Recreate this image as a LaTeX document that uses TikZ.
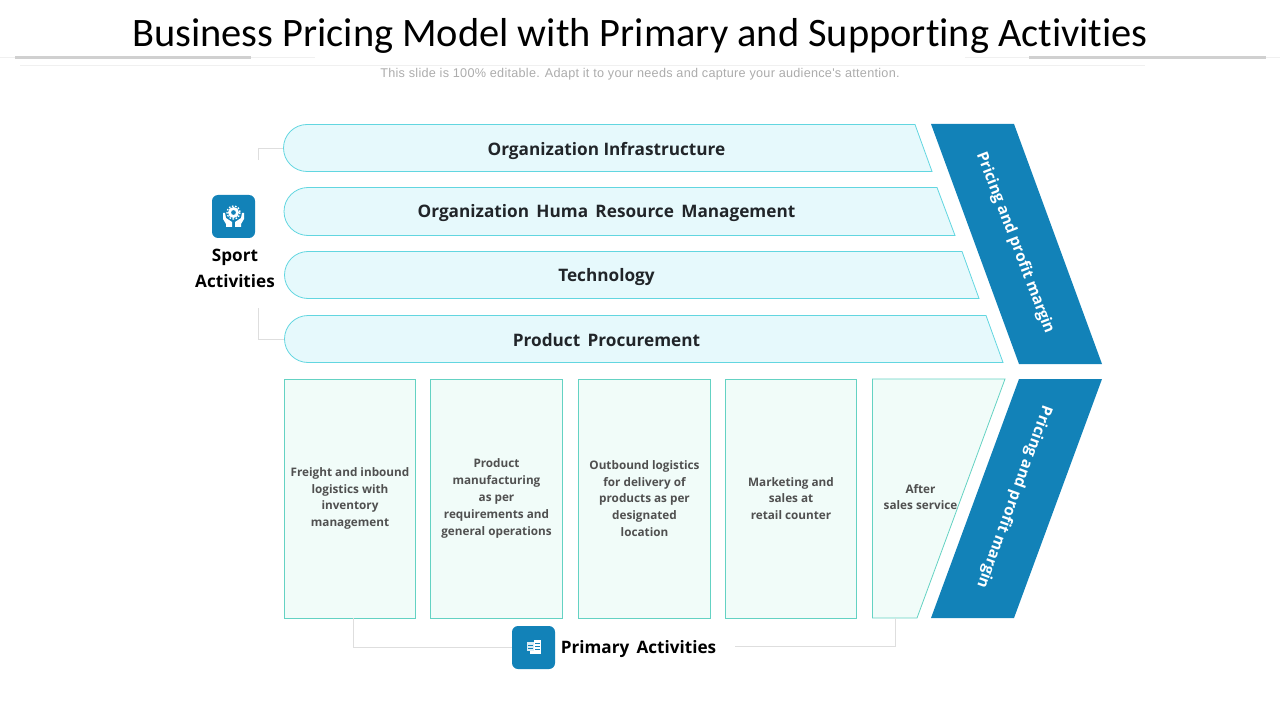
\documentclass[tikz,border=0pt]{standalone}
\usepackage{fontspec}
\setmainfont{Open Sans}
\newfontfamily\titlefont[Ligatures=NoCommon]{Carlito}
\newfontfamily\notefont[LetterSpace=2.1]{Liberation Sans}
\usetikzlibrary{positioning,calc}
\definecolor{BandBlue}{RGB}{18,130,184}
\definecolor{BarFill}{RGB}{230,249,252}
\definecolor{BarLine}{RGB}{98,214,224}
\definecolor{BoxFill}{RGB}{241,252,249}
\definecolor{BoxLine}{RGB}{100,210,195}
\definecolor{TextDark}{RGB}{33,37,41}
\definecolor{TextGray}{RGB}{80,80,80}
\definecolor{NoteGray}{RGB}{172,172,172}
\definecolor{RuleGray}{RGB}{208,208,208}
\definecolor{RuleFaint}{RGB}{240,240,240}
\definecolor{LinkGray}{RGB}{222,222,222}
\tikzset{
  barshape/.style={draw=BarLine, fill=BarFill, line width=0.6pt},
  boxshape/.style={draw=BoxLine, fill=BoxFill, line width=0.6pt},
  primarybox/.style={boxshape, minimum height=179.25pt, inner sep=0pt, align=center, font=\fontsize{8.8}{12.6}\selectfont\bfseries, text=TextGray},
  barlabel/.style={font=\fontsize{12.9}{16}\selectfont\bfseries, text=TextDark},
  bandlabel/.style={font=\fontsize{11.6}{15}\selectfont\bfseries, text=white},
  grouplabel/.style={font=\fontsize{12.85}{19.5}\selectfont\bfseries, text=black, align=center},
  iconbox/.style={fill=BandBlue, rounded corners=4.5pt, minimum size=32.25pt, inner sep=0pt},
  linkline/.style={draw=LinkGray, line width=0.6pt}
}
\begin{document}
\begin{tikzpicture}[x=0.75pt,y=-0.75pt]
  \useasboundingbox (0,0) rectangle (1280,720);
  % heading
  \node[font=\titlefont\fontsize{30.3}{36}\selectfont, text=black] (heading) at (640,36) {Business Pricing Model with Primary and Supporting Activities};
  \node[font=\notefont\fontsize{9.5}{11}\selectfont, text=NoteGray] (note) at (640,74.5) {This slide is 100\% editable. Adapt it to your needs and capture your audience's attention.};
  \draw[RuleFaint, line width=0.6pt] (0,57.5)--(315,57.5) (965,57.5)--(1280,57.5) (20,65)--(1145,65);
  \draw[RuleGray, line width=2.2pt] (15,57.5)--(251,57.5) (1029,57.5)--(1266,57.5);

  % support bars
  \draw[barshape] (915,124.5)--(932,171.5)--(307,171.5) arc (90:270:23.5)--cycle;
  \draw[barshape] (937,187.5)--(955,235.5)--(308,235.5) arc (90:270:24)--cycle;
  \draw[barshape] (962,251.5)--(979,298.5)--(308,298.5) arc (90:270:23.5)--cycle;
  \draw[barshape] (986,315.5)--(1003,362.5)--(308,362.5) arc (90:270:23.5)--cycle;
  \coordinate (infra) at (283,148);
  \coordinate (procure) at (284,339);
  \node[barlabel] (infralabel) at (606.5,150.5) {Organization Infrastructure};
  \node[barlabel] (hrlabel) at (606.5,213.5) {Organization\, Huma\, Resource\, Management};
  \node[barlabel] (techlabel) at (606.5,277.5) {Technology};
  \node[barlabel] (procurelabel) at (606.5,340) {Product\, Procurement};

  % primary boxes
  \node[primarybox, minimum width=98.25pt] (inbound) at (350,498.5) {Freight and inbound\\logistics with\\inventory\\management};
  \node[primarybox, minimum width=99pt] (making) at (496.5,498.5) {Product\\manufacturing\\as per\\requirements and\\general operations};
  \node[primarybox, minimum width=99pt] (outbound) at (644.5,498.5) {Outbound logistics\\for delivery of\\products as per\\designated\\location};
  \node[primarybox, minimum width=98.25pt] (market) at (791,498.5) {Marketing and\\sales at\\retail counter};
  \draw[boxshape] (872.5,379)--(1005,379)--(917,618)--(872.5,618)--cycle;
  \node[font=\fontsize{8.8}{12.6}\selectfont\bfseries, text=TextGray, align=center] (service) at (920.5,497) {After\\sales service};

  % margin bands
  \fill[BandBlue] (931,124)--(1014,124)--(1102,364)--(1019,364)--cycle;
  \fill[BandBlue] (1019,379)--(1102,379)--(1014,618)--(931,618)--cycle;
  \node[bandlabel, rotate=-69] (bandup) at (1015,243) {Pricing and profit margin};
  \node[bandlabel, rotate=-110] (banddown) at (1014,497) {Pricing and profit margin};

  % sport group
  \node[iconbox] (sporticon) at (233.5,216.5) {};
  \node[grouplabel] (sportlabel) at (235,268.5) {Sport\\Activities};
  \coordinate (sporttop) at (258,160);
  \coordinate (sportfoot) at (258,308);
  \draw[linkline] (sporttop) |- (infra);
  \draw[linkline] (sportfoot) |- (procure);
  % hands and gear
  \fill[white, even odd rule] (233.5,212.5) circle (5.5) (233.5,212.5) circle (2.5);
  \draw[white, line width=1pt, dash pattern=on 1.2pt off 1.2pt] (233.5,212.5) circle (6.5);
  \fill[white] (223,213)--(225,213)--(226,218)--(232,222)--(232,227)--(226,227)--(226,224)--(223,219)--cycle;
  \fill[white] (244,213)--(242,213)--(241,218)--(235,222)--(235,227)--(241,227)--(241,224)--(244,219)--cycle;

  % primary group
  \node[iconbox] (primaryicon) at (533.5,647.5) {};
  \node[grouplabel] (primarylabel) at (638.5,649.5) {Primary\, Activities};
  \coordinate (inboundfoot) at (353,618);
  \coordinate (servicefoot) at (895,618);
  \coordinate (primaryend) at (735,646);
  \draw[linkline] (inboundfoot) |- (primaryicon.west);
  \draw[linkline] (servicefoot) |- (primaryend);
  % screens
  \fill[white!85!BandBlue] (527,642)rectangle(534,651);
  \fill[white] (534,640)rectangle(541,654);
  \fill[white] (530,651)rectangle(541,654);
  \draw[BandBlue, line width=0.4pt] (528,645)--(533,645) (528,648)--(533,648) (535,643)--(540,643) (535,646)--(540,646) (535,649)--(540,649);
\end{tikzpicture}
\end{document}
